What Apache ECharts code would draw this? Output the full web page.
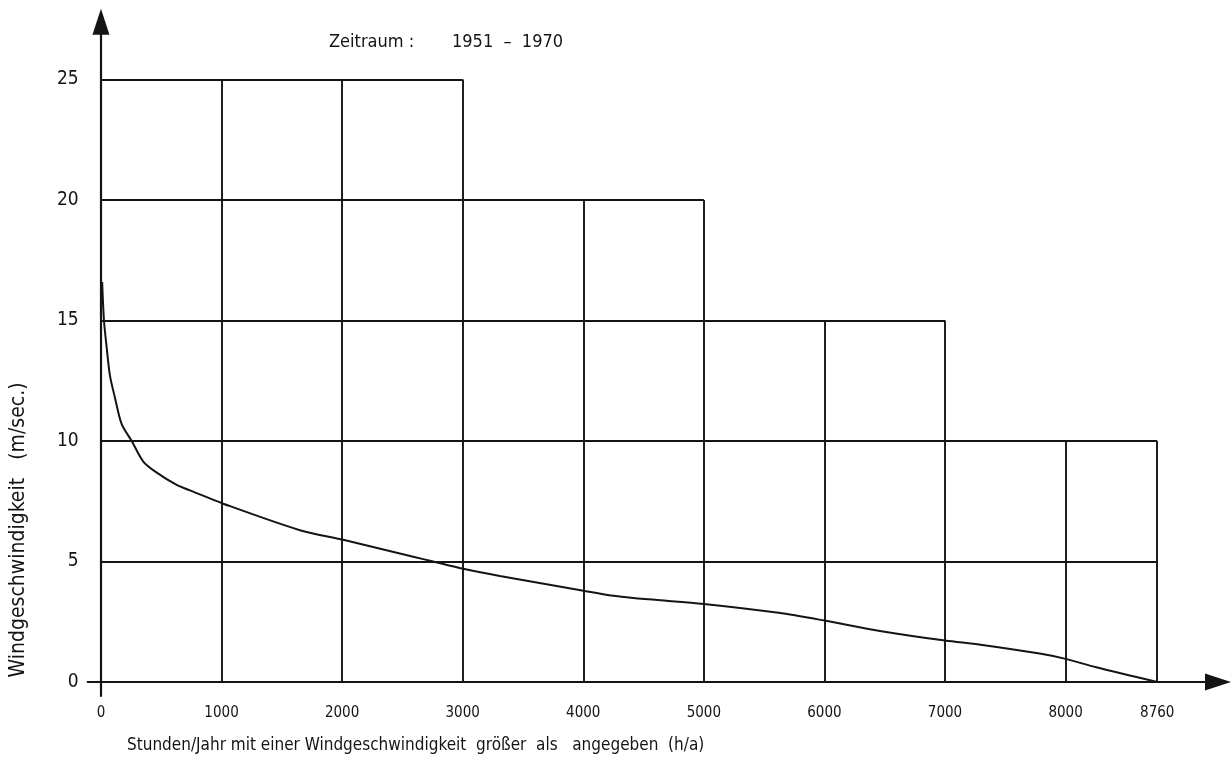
<!DOCTYPE html>
<html>
<head>
<meta charset="utf-8">
<script src="https://cdn.jsdelivr.net/npm/echarts@6/dist/echarts.min.js"></script>
<style>
html,body{margin:0;padding:0;background:#fff;}
#chart{width:1231px;height:767px;}
</style>
</head>
<body>
<div id="chart"></div>
<script>
// Wind speed duration curve: hours/year with wind speed greater than given value
const hours = [10, 25, 47, 75, 116, 172, 255, 351, 460, 628, 765, 1014, 1650, 2009, 2590, 2755, 3004, 3308, 3990, 4270, 4540, 5000, 5620, 6000, 6460, 7000, 7295, 7785, 8000, 8255, 8760];
const speed = [16.6, 15.0, 13.9, 12.7, 11.8, 10.7, 10.0, 9.15, 8.7, 8.18, 7.9, 7.4, 6.3, 5.9, 5.2, 5.0, 4.7, 4.4, 3.8, 3.57, 3.43, 3.24, 2.87, 2.55, 2.12, 1.72, 1.55, 1.18, 0.96, 0.61, 0];

const xTickValues = [0, 1000, 2000, 3000, 4000, 5000, 6000, 7000, 8000, 8760];
const yTickValues = [0, 5, 10, 15, 20, 25];

// staircase grid: horizontal levels and where they end; vertical lines and their tops
const hGridLevels = [25, 20, 15, 10, 5];
const hGridEnds   = [3000, 5000, 7000, 8760, 8760];
const vGridHours  = [1000, 2000, 3000, 4000, 5000, 6000, 7000, 8000, 8760];
const vGridTops   = [25, 25, 25, 20, 20, 15, 15, 10, 10];

const titleLabel = 'Zeitraum :';
const titleRange = '1951  –  1970';
const xName = 'Stunden/Jahr mit einer Windgeschwindigkeit  größer  als   angegeben  (h/a)';
const yName = 'Windgeschwindigkeit   (m/sec.)';

const FONT = "'DejaVu Sans Condensed', 'DejaVu Sans', sans-serif";
const INK = '#141414';

const gridSegs = [];
hGridLevels.forEach((v, i) => gridSegs.push([{coord: [0, v]}, {coord: [hGridEnds[i], v]}]));
vGridHours.forEach((h, i) => gridSegs.push([{coord: [h, 0]}, {coord: [h, vGridTops[i]]}]));

const chart = echarts.init(document.getElementById('chart'), null, {renderer: 'canvas'});
chart.setOption({
  animation: false,
  backgroundColor: '#fff',
  grid: {left: 87.7, right: 13, top: 21.7, bottom: 71},
  xAxis: {
    type: 'value', min: -110, max: 9264,
    axisLine: {show: true, onZero: true, symbol: ['none', 'triangle'], symbolSize: [17, 26],
      lineStyle: {color: INK, width: 2.2}},
    axisTick: {show: false},
    splitLine: {show: false},
    axisLabel: {customValues: xTickValues, margin: 10, color: INK, fontFamily: FONT, fontSize: 15,
      formatter: v => String(v)}
  },
  yAxis: {
    type: 'value', min: -0.58, max: 27.4,
    axisLine: {show: true, onZero: true, symbol: ['none', 'triangle'], symbolSize: [17, 26],
      lineStyle: {color: INK, width: 2.2}},
    axisTick: {show: false},
    splitLine: {show: false},
    axisLabel: {customValues: yTickValues, margin: 9, color: INK, fontFamily: FONT, fontSize: 19,
      formatter: v => String(v)}
  },
  graphic: [
    {type: 'text', left: 329, top: 33, style: {text: titleLabel, fill: INK, font: '18px ' + FONT}},
    {type: 'text', left: 452, top: 33, style: {text: titleRange, fill: INK, font: '18px ' + FONT}},
    {type: 'text', left: 127, top: 737, style: {text: xName, fill: INK, font: '17px ' + FONT}},
    {type: 'text', x: 19, y: 530, rotation: Math.PI / 2,
      style: {text: yName, fill: INK, font: '21px ' + FONT, align: 'center', verticalAlign: 'middle'}}
  ],
  series: [
    {
      type: 'line',
      data: hours.map((h, i) => [h, speed[i]]),
      showSymbol: false,
      smooth: 0.3,
      lineStyle: {color: INK, width: 2},
      silent: true,
      markLine: {
        silent: true,
        symbol: ['none', 'none'],
        label: {show: false},
        lineStyle: {color: INK, width: 1.9, type: 'solid'},
        data: gridSegs
      }
    }
  ]
});
</script>
</body>
</html>
